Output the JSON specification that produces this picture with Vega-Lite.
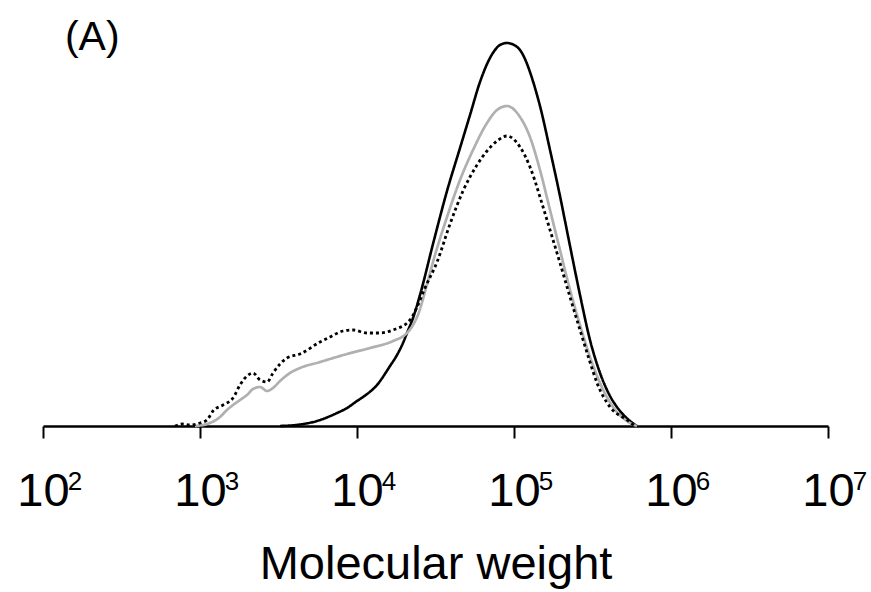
{
  "$schema": "https://vega.github.io/schema/vega-lite/v6.json",
  "width": 785,
  "height": 400,
  "autosize": "none",
  "padding": {"left": 43, "top": 26, "right": 43, "bottom": 166},
  "background": "white",
  "config": {"view": {"stroke": null}, "font": "Liberation Sans"},
  "encoding": {
    "x": {
      "field": "mw", "type": "quantitative",
      "scale": {"type": "log", "domain": [100, 10000000]},
      "axis": {
        "values": [100, 1000, 10000, 100000, 1000000, 10000000],
        "labelExpr": "'10'",
        "grid": false,
        "domainColor": "black", "domainWidth": 2.5,
        "tickColor": "black", "tickWidth": 2, "tickSize": 12,
        "labelFontSize": 47, "labelFont": "Liberation Sans", "labelColor": "black",
        "labelPadding": 30, "labelDx": -8, "labelFlush": false, "labelOverlap": false,
        "title": "Molecular weight", "titleFontSize": 47, "titleFont": "Liberation Sans",
        "titleFontWeight": "normal", "titleColor": "black", "titlePadding": 27
      }
    }
  },
  "layer": [
    {
      "data": {"values": [
        {"s": "Sample 1", "mw": 3234, "v": 0},
        {"s": "Sample 1", "mw": 4335, "v": 1.5},
        {"s": "Sample 1", "mw": 5561, "v": 5},
        {"s": "Sample 1", "mw": 7460, "v": 13},
        {"s": "Sample 1", "mw": 8640, "v": 18},
        {"s": "Sample 1", "mw": 10000, "v": 25},
        {"s": "Sample 1", "mw": 10920, "v": 29},
        {"s": "Sample 1", "mw": 13410, "v": 41},
        {"s": "Sample 1", "mw": 16230, "v": 60},
        {"s": "Sample 1", "mw": 17980, "v": 71},
        {"s": "Sample 1", "mw": 19630, "v": 83},
        {"s": "Sample 1", "mw": 20820, "v": 93},
        {"s": "Sample 1", "mw": 22740, "v": 108},
        {"s": "Sample 1", "mw": 25190, "v": 131},
        {"s": "Sample 1", "mw": 30480, "v": 182},
        {"s": "Sample 1", "mw": 37440, "v": 235},
        {"s": "Sample 1", "mw": 45300, "v": 278},
        {"s": "Sample 1", "mw": 52460, "v": 311},
        {"s": "Sample 1", "mw": 60720, "v": 344},
        {"s": "Sample 1", "mw": 70310, "v": 368},
        {"s": "Sample 1", "mw": 81440, "v": 381},
        {"s": "Sample 1", "mw": 90240, "v": 383},
        {"s": "Sample 1", "mw": 101500, "v": 380.5},
        {"s": "Sample 1", "mw": 109200, "v": 376},
        {"s": "Sample 1", "mw": 117500, "v": 367},
        {"s": "Sample 1", "mw": 126400, "v": 354},
        {"s": "Sample 1", "mw": 136100, "v": 338},
        {"s": "Sample 1", "mw": 146400, "v": 320},
        {"s": "Sample 1", "mw": 169600, "v": 276},
        {"s": "Sample 1", "mw": 196300, "v": 230},
        {"s": "Sample 1", "mw": 227400, "v": 180},
        {"s": "Sample 1", "mw": 263300, "v": 131},
        {"s": "Sample 1", "mw": 304800, "v": 86},
        {"s": "Sample 1", "mw": 353100, "v": 53},
        {"s": "Sample 1", "mw": 408800, "v": 30},
        {"s": "Sample 1", "mw": 473600, "v": 15},
        {"s": "Sample 1", "mw": 548200, "v": 5},
        {"s": "Sample 1", "mw": 607000, "v": 0},

        {"s": "Sample 2", "mw": 929, "v": 0},
        {"s": "Sample 2", "mw": 1108, "v": 2},
        {"s": "Sample 2", "mw": 1341, "v": 9},
        {"s": "Sample 2", "mw": 1485, "v": 16},
        {"s": "Sample 2", "mw": 1623, "v": 21},
        {"s": "Sample 2", "mw": 1798, "v": 26},
        {"s": "Sample 2", "mw": 1992, "v": 31},
        {"s": "Sample 2", "mw": 2176, "v": 37},
        {"s": "Sample 2", "mw": 2411, "v": 39},
        {"s": "Sample 2", "mw": 2672, "v": 35},
        {"s": "Sample 2", "mw": 2917, "v": 38},
        {"s": "Sample 2", "mw": 3234, "v": 45},
        {"s": "Sample 2", "mw": 3743, "v": 53},
        {"s": "Sample 2", "mw": 4335, "v": 58},
        {"s": "Sample 2", "mw": 5813, "v": 64},
        {"s": "Sample 2", "mw": 8640, "v": 72},
        {"s": "Sample 2", "mw": 12100, "v": 78},
        {"s": "Sample 2", "mw": 16960, "v": 85},
        {"s": "Sample 2", "mw": 20820, "v": 93},
        {"s": "Sample 2", "mw": 22740, "v": 101},
        {"s": "Sample 2", "mw": 24830, "v": 114},
        {"s": "Sample 2", "mw": 27510, "v": 138},
        {"s": "Sample 2", "mw": 30480, "v": 164},
        {"s": "Sample 2", "mw": 37440, "v": 209},
        {"s": "Sample 2", "mw": 45300, "v": 246},
        {"s": "Sample 2", "mw": 54820, "v": 276},
        {"s": "Sample 2", "mw": 67300, "v": 303},
        {"s": "Sample 2", "mw": 77930, "v": 316},
        {"s": "Sample 2", "mw": 90240, "v": 320},
        {"s": "Sample 2", "mw": 109200, "v": 309},
        {"s": "Sample 2", "mw": 126400, "v": 289},
        {"s": "Sample 2", "mw": 146400, "v": 256},
        {"s": "Sample 2", "mw": 169600, "v": 216},
        {"s": "Sample 2", "mw": 196300, "v": 176},
        {"s": "Sample 2", "mw": 227400, "v": 136},
        {"s": "Sample 2", "mw": 263300, "v": 101},
        {"s": "Sample 2", "mw": 304800, "v": 69},
        {"s": "Sample 2", "mw": 353100, "v": 43},
        {"s": "Sample 2", "mw": 427300, "v": 19},
        {"s": "Sample 2", "mw": 548200, "v": 3},
        {"s": "Sample 2", "mw": 607000, "v": 0},

        {"s": "Sample 3", "mw": 693, "v": 0},
        {"s": "Sample 3", "mw": 779, "v": 2},
        {"s": "Sample 3", "mw": 864, "v": 1},
        {"s": "Sample 3", "mw": 1000, "v": 3},
        {"s": "Sample 3", "mw": 1108, "v": 6},
        {"s": "Sample 3", "mw": 1210, "v": 15},
        {"s": "Sample 3", "mw": 1401, "v": 21},
        {"s": "Sample 3", "mw": 1623, "v": 28},
        {"s": "Sample 3", "mw": 1798, "v": 41},
        {"s": "Sample 3", "mw": 1992, "v": 50},
        {"s": "Sample 3", "mw": 2176, "v": 53},
        {"s": "Sample 3", "mw": 2411, "v": 46},
        {"s": "Sample 3", "mw": 2672, "v": 44},
        {"s": "Sample 3", "mw": 2917, "v": 53},
        {"s": "Sample 3", "mw": 3234, "v": 62},
        {"s": "Sample 3", "mw": 3583, "v": 68},
        {"s": "Sample 3", "mw": 4335, "v": 72},
        {"s": "Sample 3", "mw": 5813, "v": 84},
        {"s": "Sample 3", "mw": 6730, "v": 89},
        {"s": "Sample 3", "mw": 8146, "v": 95},
        {"s": "Sample 3", "mw": 9430, "v": 96},
        {"s": "Sample 3", "mw": 11580, "v": 93},
        {"s": "Sample 3", "mw": 14010, "v": 93},
        {"s": "Sample 3", "mw": 16960, "v": 96},
        {"s": "Sample 3", "mw": 21760, "v": 106},
        {"s": "Sample 3", "mw": 24110, "v": 119},
        {"s": "Sample 3", "mw": 27100, "v": 138},
        {"s": "Sample 3", "mw": 32340, "v": 164},
        {"s": "Sample 3", "mw": 39130, "v": 202},
        {"s": "Sample 3", "mw": 47330, "v": 235},
        {"s": "Sample 3", "mw": 58110, "v": 261},
        {"s": "Sample 3", "mw": 67300, "v": 275},
        {"s": "Sample 3", "mw": 77930, "v": 285},
        {"s": "Sample 3", "mw": 90240, "v": 290},
        {"s": "Sample 3", "mw": 109200, "v": 279},
        {"s": "Sample 3", "mw": 126400, "v": 259},
        {"s": "Sample 3", "mw": 136100, "v": 245},
        {"s": "Sample 3", "mw": 146400, "v": 229},
        {"s": "Sample 3", "mw": 169600, "v": 196},
        {"s": "Sample 3", "mw": 196300, "v": 163},
        {"s": "Sample 3", "mw": 227400, "v": 129},
        {"s": "Sample 3", "mw": 263300, "v": 96},
        {"s": "Sample 3", "mw": 304800, "v": 64},
        {"s": "Sample 3", "mw": 337900, "v": 43},
        {"s": "Sample 3", "mw": 408800, "v": 19},
        {"s": "Sample 3", "mw": 524600, "v": 6},
        {"s": "Sample 3", "mw": 590100, "v": 0}
      ]},
      "mark": {"type": "line", "interpolate": "monotone"},
      "encoding": {
        "y": {"field": "v", "type": "quantitative", "scale": {"domain": [0, 400]}, "axis": null},
        "color": {"field": "s", "type": "nominal", "scale": {"domain": ["Sample 1", "Sample 2", "Sample 3"], "range": ["black", "#b0b0b0", "black"]}, "legend": null},
        "strokeDash": {"field": "s", "type": "nominal", "scale": {"domain": ["Sample 1", "Sample 2", "Sample 3"], "range": [[1, 0], [1, 0], [3, 3]]}, "legend": null},
        "strokeWidth": {"field": "s", "type": "nominal", "scale": {"domain": ["Sample 1", "Sample 2", "Sample 3"], "range": [2.6, 2.8, 2]}, "legend": null}
      }
    },
    {
      "data": {"values": [
        {"mw": 100, "exp": "2"},
        {"mw": 1000, "exp": "3"},
        {"mw": 10000, "exp": "4"},
        {"mw": 100000, "exp": "5"},
        {"mw": 1000000, "exp": "6"},
        {"mw": 10000000, "exp": "7"}
      ]},
      "mark": {"type": "text", "align": "center", "baseline": "alphabetic", "dx": 32, "dy": 64, "fontSize": 26, "font": "Liberation Sans", "color": "black"},
      "encoding": {
        "y": {"datum": 0, "type": "quantitative", "axis": null},
        "text": {"field": "exp"}
      }
    },
    {
      "data": {"values": [{"label": "(A)", "mw": 138, "v": 376}]},
      "mark": {"type": "text", "align": "left", "baseline": "alphabetic", "fontSize": 41, "font": "Liberation Sans", "color": "black"},
      "encoding": {
        "y": {"field": "v", "type": "quantitative", "axis": null},
        "text": {"field": "label"}
      }
    }
  ]
}
